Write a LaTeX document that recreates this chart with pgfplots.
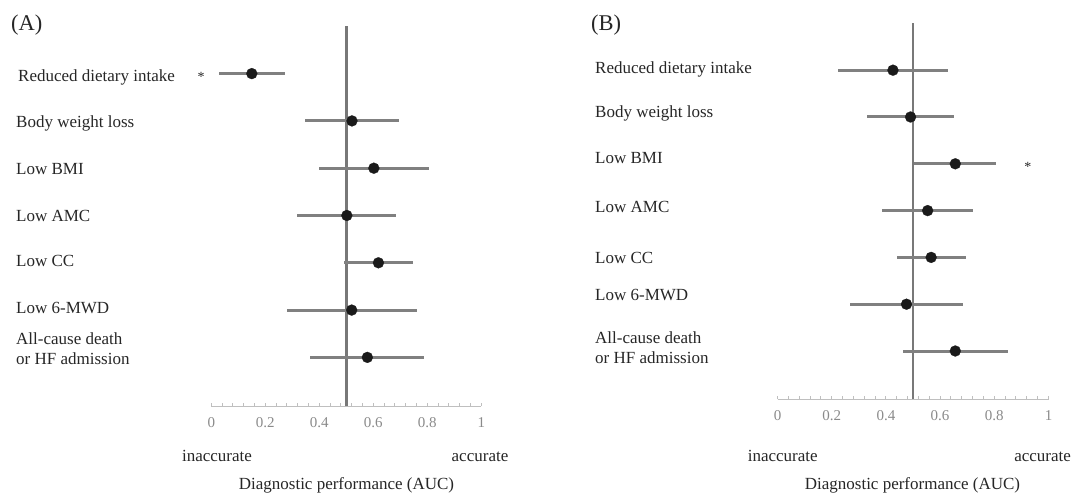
\documentclass[border=0pt]{standalone}
\usepackage{fontspec}
\setmainfont{Liberation Serif}
\usepackage{pgfplots}
\usepackage{pgfplotstable}
\pgfplotsset{compat=1.18}
\definecolor{barcol}{HTML}{808080}
\definecolor{vcol}{HTML}{787878}
\definecolor{axcol}{HTML}{BFBFBF}
\definecolor{tickcol}{HTML}{8A8A8A}
\definecolor{dotcol}{HTML}{1A1A1A}
\definecolor{txtcol}{HTML}{262626}
\newcommand\lab{\fontsize{17}{20}\selectfont}

\pgfplotstableread{
y x lo hi
7 0.150 0.028 0.274
6 0.521 0.348 0.697
5 0.602 0.399 0.807
4 0.502 0.318 0.685
3 0.619 0.491 0.748
2 0.520 0.280 0.760
1 0.578 0.364 0.789
}\tblA

\pgfplotstableread{
y x lo hi
7 0.426 0.225 0.628
6 0.491 0.330 0.653
5 0.656 0.505 0.806
4 0.554 0.384 0.722
3 0.567 0.440 0.697
2 0.476 0.268 0.686
1 0.656 0.463 0.850
}\tblB

\pgfplotsset{forest/.style={
  scale only axis, anchor=south west, clip=false,
  xmin=0, xmax=1, ymin=-0.03, ymax=8,
  axis x line*=bottom, axis y line=none,
  x axis line style={color=axcol, line width=1.1pt, -},
  xtick={0,0.2,0.4,0.6,0.8,1}, minor x tick num=4,
  tick align=inside, major tick length=3.5pt, minor tick length=3.5pt,
  every tick/.style={color=axcol, line width=1pt},
  every minor tick/.style={color=axcol, line width=1pt},
  /pgf/number format/assume math mode=true,
  xticklabel style={font=\fontsize{15}{16}\selectfont, text=tickcol, yshift=-8pt},
}}

\begin{document}
\begin{tikzpicture}
\path[use as bounding box] (0pt,0pt) rectangle (1077pt,-493pt);

% ---------- Panel A ----------
\begin{axis}[forest, at={(211.3pt,-406.1pt)}, width=270pt, height=379.8pt]
\addplot[line width=2.8pt, color=vcol] coordinates {(0.5,-0.03) (0.5,8)};
\addplot[only marks, mark=none,
  error bars/.cd, x dir=both, x explicit, error mark=none,
  error bar style={line width=3pt, color=barcol}]
  table[x=x, y=y, x error plus expr=\thisrow{hi}-\thisrow{x},
        x error minus expr=\thisrow{x}-\thisrow{lo}] {\tblA};
\addplot[only marks, mark=*, mark size=5.5pt,
  mark options={fill=dotcol, draw=dotcol, line width=0.2pt}]
  table[x=x, y=y] {\tblA};
\node[anchor=base, yshift=-7.5pt, font=\fontsize{14}{15}\selectfont, text=txtcol]
  at (axis cs:-0.038,7) {*};
\end{axis}

% ---------- Panel B ----------
\begin{axis}[forest, at={(777.5pt,-399.2pt)}, width=271pt, height=375.8pt]
\addplot[line width=2.8pt, color=vcol] coordinates {(0.5,-0.03) (0.5,8)};
\addplot[only marks, mark=none,
  error bars/.cd, x dir=both, x explicit, error mark=none,
  error bar style={line width=3pt, color=barcol}]
  table[x=x, y=y, x error plus expr=\thisrow{hi}-\thisrow{x},
        x error minus expr=\thisrow{x}-\thisrow{lo}] {\tblB};
\addplot[only marks, mark=*, mark size=5.5pt,
  mark options={fill=dotcol, draw=dotcol, line width=0.2pt}]
  table[x=x, y=y] {\tblB};
\node[anchor=base, yshift=-7.5pt, font=\fontsize{14}{15}\selectfont, text=txtcol]
  at (axis cs:0.924,5) {*};
\end{axis}

% ---------- Texts ----------
\begin{scope}[every node/.style={inner sep=0pt, text=txtcol, font=\lab}]
\node[anchor=base west, font=\fontsize{22.5}{24}\selectfont] at (11pt,-30pt) {(A)};
\node[anchor=base west, font=\fontsize{22.5}{24}\selectfont] at (591pt,-30pt) {(B)};

\node[anchor=base west] at (18pt,-81.4pt) {Reduced dietary intake};
\node[anchor=base west] at (16pt,-127.2pt) {Body weight loss};
\node[anchor=base west] at (16pt,-174.2pt) {Low BMI};
\node[anchor=base west] at (16pt,-221pt) {Low AMC};
\node[anchor=base west] at (16pt,-266pt) {Low CC};
\node[anchor=base west] at (16pt,-313pt) {Low 6-MWD};
\node[anchor=base west] at (16pt,-344.3pt) {All-cause death};
\node[anchor=base west] at (16pt,-364.3pt) {or HF admission};

\node[anchor=base west] at (595pt,-73.3pt) {Reduced dietary intake};
\node[anchor=base west] at (595pt,-117pt) {Body weight loss};
\node[anchor=base west] at (595pt,-163pt) {Low BMI};
\node[anchor=base west] at (595pt,-212.7pt) {Low AMC};
\node[anchor=base west] at (595pt,-263.3pt) {Low CC};
\node[anchor=base west] at (595pt,-300.3pt) {Low 6-MWD};
\node[anchor=base west] at (595pt,-343.7pt) {All-cause death};
\node[anchor=base west] at (595pt,-363.7pt) {or HF admission};

\node[anchor=base] at (217pt,-461pt) {inaccurate};
\node[anchor=base] at (480pt,-461pt) {accurate};
\node[anchor=base] at (346.5pt,-489pt) {Diagnostic performance (AUC)};

\node[anchor=base] at (782.7pt,-461pt) {inaccurate};
\node[anchor=base] at (1042.6pt,-461pt) {accurate};
\node[anchor=base] at (912.5pt,-489pt) {Diagnostic performance (AUC)};
\end{scope}
\end{tikzpicture}
\end{document}
